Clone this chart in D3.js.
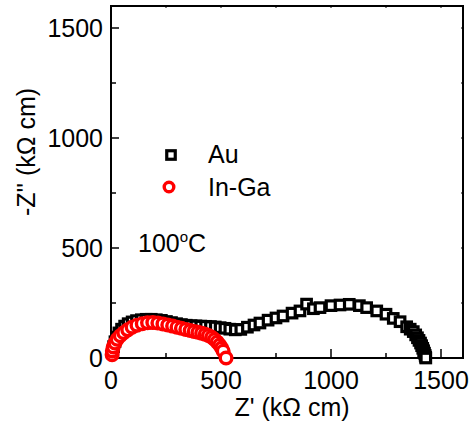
<!DOCTYPE html>
<html>
<head>
<meta charset="utf-8">
<script src="https://cdn.jsdelivr.net/npm/d3@7"></script>
<style>
  body { margin: 0; background: #fff; }
  text { font-family: "Liberation Sans", Arial, Helvetica, sans-serif; fill: #000; }
</style>
</head>
<body>
<div id="chart"></div>
<script>
// Au electrode, Z' and -Z'' (kOhm cm)
var auZre = [8, 12, 18, 26, 36, 48, 62, 78, 96, 116, 138, 160, 183, 206, 229, 252, 275, 298, 320, 342, 364, 386, 408, 430, 452, 474, 496, 518, 540, 565,
             590, 620, 650, 677, 714, 750, 782, 823, 859, 889, 920, 950, 1000, 1041, 1083, 1129, 1162, 1208, 1250, 1283, 1314, 1344, 1360, 1374,
             1385, 1393, 1400, 1407, 1412, 1417, 1421, 1425, 1428, 1430, 1431];
var auZim = [30, 52, 74, 95, 114, 131, 145, 156, 164, 170, 174, 176, 176, 174, 171, 166, 161, 156, 152, 149, 147, 146, 145, 144, 143, 141, 138, 135, 131, 128,
             130, 140, 150, 159, 172, 182, 191, 204, 214, 245, 224, 229, 238, 241, 244, 238, 229, 214, 199, 180, 165, 142, 131, 120,
             105, 92, 80, 68, 56, 44, 33, 22, 12, 4, 0];

// In-Ga electrode
var igZre = [5, 6, 10, 18, 28, 42, 58, 76, 96, 118, 142, 166, 190, 213, 236, 258, 280, 300, 320, 340, 360, 378, 395, 412, 428, 443, 458, 471, 483, 494, 503, 510, 523];
var igZim = [15, 32, 50, 68, 85, 101, 115, 128, 140, 149, 156, 160, 161, 159, 155, 150, 145, 140, 135, 130, 125, 121, 117, 113, 108, 102, 94, 84, 72, 59, 45, 31, 0];

var xTicks = [0, 500, 1000, 1500];
var yTicks = [0, 500, 1000, 1500];
var minorTicks = [250, 750, 1250];

var au = auZre.map(function(d, i) { return [d, auZim[i]]; });
var ig = igZre.map(function(d, i) { return [d, igZim[i]]; });

var width = 472, height = 432;
var svg = d3.select("#chart").append("svg")
    .attr("width", width)
    .attr("height", height);

var x = d3.scaleLinear().domain([0, 1600]).range([111, 463]);
var y = d3.scaleLinear().domain([0, 1600]).range([358, 6]);

// ticks inward
var g = svg.append("g");
g.selectAll(".xmaj").data(xTicks).enter().append("line")
    .attr("x1", function(d) { return x(d); }).attr("x2", function(d) { return x(d); })
    .attr("y1", y(0)).attr("y2", y(0) - 9)
    .attr("stroke", "#000").attr("stroke-width", 1.5);
g.selectAll(".xmin").data(minorTicks).enter().append("line")
    .attr("x1", function(d) { return x(d); }).attr("x2", function(d) { return x(d); })
    .attr("y1", y(0)).attr("y2", y(0) - 5)
    .attr("stroke", "#000").attr("stroke-width", 1.5);
g.selectAll(".ymaj").data(yTicks).enter().append("line")
    .attr("y1", function(d) { return y(d); }).attr("y2", function(d) { return y(d); })
    .attr("x1", x(0)).attr("x2", x(0) + 8)
    .attr("stroke", "#000").attr("stroke-width", 1.5);
g.selectAll(".ymin").data(minorTicks).enter().append("line")
    .attr("y1", function(d) { return y(d); }).attr("y2", function(d) { return y(d); })
    .attr("x1", x(0)).attr("x2", x(0) + 5)
    .attr("stroke", "#000").attr("stroke-width", 1.5);
// tiny ticks on the right and top
g.selectAll(".rt").data(yTicks.concat(minorTicks)).enter().append("line")
    .attr("y1", function(d) { return y(d); }).attr("y2", function(d) { return y(d); })
    .attr("x1", x(1600)).attr("x2", x(1600) - 2)
    .attr("stroke", "#000").attr("stroke-width", 1);
g.selectAll(".tp").data(xTicks.concat(minorTicks)).enter().append("line")
    .attr("x1", function(d) { return x(d); }).attr("x2", function(d) { return x(d); })
    .attr("y1", y(1600)).attr("y2", y(1600) + 2)
    .attr("stroke", "#000").attr("stroke-width", 1);

// frame
svg.append("rect")
    .attr("x", x(0)).attr("y", y(1600))
    .attr("width", x(1600) - x(0)).attr("height", y(0) - y(1600))
    .attr("fill", "none").attr("stroke", "#000").attr("stroke-width", 2);

// tick labels
svg.selectAll(".xl").data(xTicks).enter().append("text")
    .attr("x", function(d) { return x(d); })
    .attr("y", 389)
    .attr("text-anchor", "middle")
    .style("font-size", "25px")
    .text(function(d) { return d; });
svg.selectAll(".yl").data(yTicks).enter().append("text")
    .attr("x", 103)
    .attr("y", function(d) { return y(d) + 9; })
    .attr("text-anchor", "end")
    .style("font-size", "25px")
    .text(function(d) { return d; });

// axis titles
svg.append("text")
    .attr("x", 292).attr("y", 416)
    .attr("text-anchor", "middle")
    .style("font-size", "25px")
    .text("Z' (k\u03A9 cm)");
svg.append("text")
    .attr("transform", "translate(35,152) rotate(-90)")
    .attr("text-anchor", "middle")
    .style("font-size", "25px")
    .text("-Z'' (k\u03A9 cm)");

// Au squares
var s = 9.5;
svg.append("g").selectAll("rect").data(au).enter().append("rect")
    .attr("x", function(d) { return x(d[0]) - s / 2; })
    .attr("y", function(d) { return y(d[1]) - s / 2; })
    .attr("width", s).attr("height", s)
    .attr("fill", "#fff").attr("stroke", "#000").attr("stroke-width", 3.2);

// In-Ga circles
svg.append("g").selectAll("circle").data(ig).enter().append("circle")
    .attr("cx", function(d) { return x(d[0]); })
    .attr("cy", function(d) { return y(d[1]); })
    .attr("r", 5.8)
    .attr("fill", "#fff").attr("stroke", "#f00").attr("stroke-width", 3.4);

// legend
var ls = 8.5;
svg.append("rect")
    .attr("x", 171 - ls / 2).attr("y", 155 - ls / 2)
    .attr("width", ls).attr("height", ls)
    .attr("fill", "#fff").attr("stroke", "#000").attr("stroke-width", 3.2);
svg.append("text").attr("x", 208).attr("y", 163).style("font-size", "25px").text("Au");
svg.append("circle")
    .attr("cx", 169).attr("cy", 187).attr("r", 4.8)
    .attr("fill", "#fff").attr("stroke", "#f00").attr("stroke-width", 3.4);
svg.append("text").attr("x", 208).attr("y", 196).style("font-size", "25px").text("In-Ga");

// temperature label
var t = svg.append("text").attr("x", 138).attr("y", 252).style("font-size", "25px");
t.append("tspan").text("100");
t.append("tspan").attr("dy", -10).style("font-size", "15px").text("o");
t.append("tspan").attr("dy", 10).text("C");
</script>
</body>
</html>
